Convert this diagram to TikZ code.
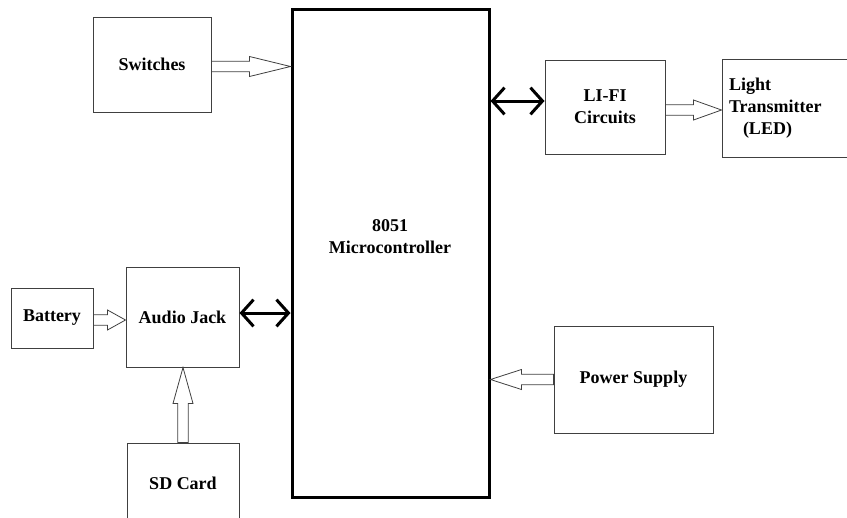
\documentclass[tikz,border=0pt]{standalone}
\usepackage{fontspec}
\setmainfont{Liberation Serif}
\usetikzlibrary{arrows.meta,calc}

\begin{document}
\begin{tikzpicture}[
    x=0.75pt, y=-0.75pt,
    block/.style={draw=black!75, line width=0.75pt, align=center, inner sep=0pt, font=\bfseries\fontsize{13.5}{16.5}\selectfont},
    hollow/.style={draw=black!75, line width=0.6pt, to path={
        let \p1=($(\tikztotarget)-(\tikztostart)$),
            \n1={veclen(\x1,\y1)-#1}, \n2={atan2(\y1,\x1)} in
        ($(\tikztostart)+({\n2+90}:4pt)$)
        -- ($(\tikztostart)+(\n2:\n1)+({\n2+90}:4pt)$)
        -- ($(\tikztostart)+(\n2:\n1)+({\n2+90}:7.5pt)$)
        -- (\tikztotarget)
        -- ($(\tikztostart)+(\n2:\n1)+({\n2-90}:7.5pt)$)
        -- ($(\tikztostart)+(\n2:\n1)+({\n2-90}:4pt)$)
        -- ($(\tikztostart)+({\n2-90}:4pt)$) -- cycle}},
    link/.style={<->, >={Straight Barb[length=9pt,width=20pt]}, line width=2.25pt},
  ]
  \useasboundingbox (0,0) rectangle (847,518);
  \clip (0,0) rectangle (847,518);

  % Controller
  \node[draw, line width=2.25pt, minimum width=147.75pt, minimum height=366pt] (mc) at (390.5,253) {};
  \node[block, draw=none] (mclabel) at (390,237) {8051\\Microcontroller};

  % Inputs
  \node[block, minimum width=88.5pt, minimum height=71.25pt] (sw) at (152,64.5) {Switches};
  \node[block, minimum width=61.5pt, minimum height=45pt] (bat) at (52,318) {Battery};
  \node[block, minimum width=84.75pt, minimum height=75pt] (aj) at (182.5,317) {Audio Jack};
  \node[block, minimum width=84pt, minimum height=60pt] (sd) at (183,483) {SD Card};
  \node[block, minimum width=119.25pt, minimum height=80.25pt] (ps) at (633.5,379.5) {Power Supply};

  % Output
  \node[block, minimum width=90pt, minimum height=70.5pt] (li) at (605,107) {LI-FI\\Circuits};
  \node[block, align=left, text width=93pt, minimum width=103.5pt, minimum height=73.5pt] (lt) at (791,108) {Light\\Transmitter\\\hspace*{10.5pt}(LED)};

  % Arrows
  \draw[hollow=30.75pt] ([yshift=-1.5pt]sw.east) to ([yshift=-1.5pt]sw.east -| mc.west);
  \draw[hollow=13.5pt] ([yshift=-1.5pt]bat.east) to ([yshift=-1.5pt]bat.east -| aj.west);
  \draw[hollow=27pt] (sd.north) to (sd.north |- aj.south);
  \draw[hollow=23.25pt] (ps.west) to (ps.west -| mc.east);
  \draw[hollow=21pt] ([yshift=-2.25pt]li.east) to ([yshift=-2.25pt]li.east -| lt.west);
  \draw[link] ([yshift=3pt]aj.east) -- ([yshift=3pt]aj.east -| mc.west);
  \draw[link] ([yshift=4.5pt]li.west) -- ([yshift=4.5pt]li.west -| mc.east);
\end{tikzpicture}
\end{document}
